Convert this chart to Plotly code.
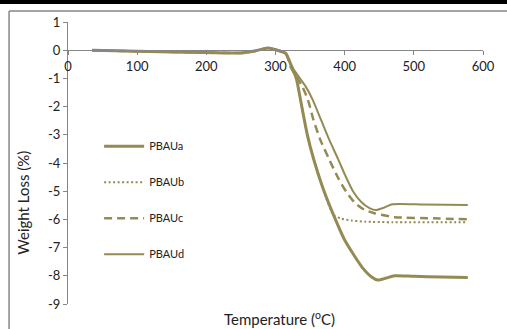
import plotly.graph_objects as go

# ---- data ----
temp_a = [35, 100, 200, 250, 270, 289, 305, 315, 322, 330, 338, 346, 355, 368, 384, 400, 425, 439, 448, 460, 472, 500, 540, 578]
loss_a = [0.0, -0.04, -0.08, -0.1, -0.03, 0.08, -0.02, -0.12, -0.5, -1.0, -2.0, -3.0, -3.85, -4.85, -5.85, -6.73, -7.69, -8.04, -8.15, -8.08, -8.0, -8.02, -8.04, -8.06]

temp_b = [35, 100, 200, 250, 270, 289, 305, 315, 322, 330, 338, 346, 355, 368, 384, 395, 410, 430, 470, 578]
loss_b = [0.0, -0.04, -0.08, -0.1, -0.03, 0.08, -0.02, -0.12, -0.5, -1.0, -2.0, -3.0, -3.85, -4.85, -5.85, -5.97, -6.04, -6.08, -6.1, -6.1]

temp_c = [35, 100, 200, 250, 270, 289, 303, 315, 322, 339, 347, 355, 365, 378, 391, 403, 415, 428, 443, 472, 528, 578]
loss_c = [0.0, -0.04, -0.08, -0.1, -0.03, 0.08, 0.0, -0.12, -0.6, -1.3, -1.77, -2.48, -3.19, -3.89, -4.55, -5.05, -5.42, -5.65, -5.78, -5.92, -5.96, -6.0]

temp_d = [35, 100, 200, 250, 270, 289, 303, 315, 324, 344, 354, 366, 378, 391, 401, 412, 424, 436, 445, 455, 469, 514, 578]
loss_d = [0.0, -0.04, -0.08, -0.1, -0.03, 0.08, 0.0, -0.12, -0.6, -1.3, -1.77, -2.48, -3.19, -3.89, -4.45, -5.0, -5.38, -5.6, -5.67, -5.6, -5.46, -5.47, -5.49]

series_names = ["PBAUa", "PBAUb", "PBAUc", "PBAUd"]
x_ticks = [0, 100, 200, 300, 400, 500, 600]
y_ticks = [1, 0, -1, -2, -3, -4, -5, -6, -7, -8, -9]

COLOR = "#948A54"
AXIS = "#868686"
FONT = "Lato, 'Open Sans', sans-serif"

styles = [
    dict(width=3, dash="solid"),
    dict(width=2, dash="2px,2.5px"),
    dict(width=2.5, dash="8px,5px"),
    dict(width=2, dash="solid"),
]
xs = [temp_a, temp_b, temp_c, temp_d]
ys = [loss_a, loss_b, loss_c, loss_d]

fig = go.Figure()
# draw b first so thick a covers it where they coincide
order = [1, 0, 2, 3]
for i in order:
    fig.add_trace(go.Scatter(
        x=xs[i], y=ys[i], mode="lines", name=series_names[i],
        legendgroup=series_names[i], legendrank=i + 1,
        line=dict(color=COLOR, width=styles[i]["width"], dash=styles[i]["dash"],
                  shape="spline", smoothing=0.6),
        hoverinfo="skip",
    ))

fig.update_layout(
    width=507, height=329,
    margin=dict(l=68, r=16, t=22, b=25),
    paper_bgcolor="white", plot_bgcolor="white",
    font=dict(family=FONT, size=13, color="#222222"),
    showlegend=True,
    legend=dict(
        x=0.075, y=0.611, xanchor="left", yanchor="top",
        bgcolor="rgba(0,0,0,0)", font=dict(size=11, color="#222222"),
        tracegroupgap=17, itemwidth=40,
    ),
    xaxis=dict(
        range=[0, 600], tickvals=x_ticks, ticktext=[str(v) for v in x_ticks],
        anchor="free", position=0.9, side="bottom",
        showline=True, linecolor=AXIS, linewidth=1,
        ticks="outside", ticklen=4, tickcolor=AXIS,
        showgrid=False, zeroline=False, fixedrange=True,
    ),
    yaxis=dict(
        range=[-9, 1], tickvals=y_ticks, ticktext=[str(v) for v in y_ticks],
        showline=True, linecolor=AXIS, linewidth=1,
        ticks="outside", ticklen=4, tickcolor=AXIS,
        showgrid=False, zeroline=False, fixedrange=True,
    ),
    annotations=[
        dict(text="Temperature (<sup>o</sup>C)", xref="paper", yref="paper",
             x=0.509, y=-0.05, xanchor="center", yanchor="middle", showarrow=False,
             font=dict(size=15, family=FONT, color="#222222")),
        dict(text="Weight Loss (%)", xref="paper", yref="paper",
             x=-0.108, y=0.36, xanchor="center", yanchor="middle", showarrow=False,
             textangle=-90, font=dict(size=15, family=FONT, color="#222222")),
    ],
    shapes=[
        # chart frame (left and top edges visible in the crop)
        dict(type="line", xref="paper", yref="paper", x0=-0.142, x1=-0.142, y0=1.039, y1=-0.2,
             line=dict(color=AXIS, width=1.5)),
        dict(type="line", xref="paper", yref="paper", x0=-0.142, x1=1.1, y0=1.039, y1=1.039,
             line=dict(color=AXIS, width=1.5)),
        # black strip at the very top
        dict(type="rect", xref="paper", yref="paper", x0=-0.2, x1=1.1, y0=1.064, y1=1.1,
             fillcolor="black", line=dict(width=0)),
    ],
)

fig.write_html("out.html", config={"displayModeBar": False},
               post_script="document.body.style.margin='0px';")
